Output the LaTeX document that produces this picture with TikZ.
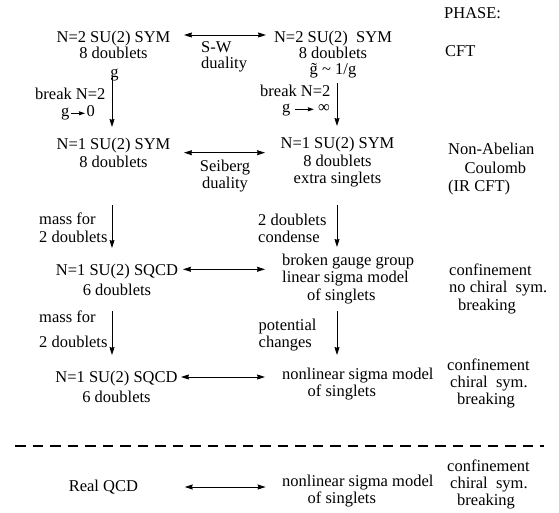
\documentclass[tikz,border=0pt]{standalone}
\usepackage{fontspec}
\setmainfont{Liberation Serif}
\usetikzlibrary{arrows.meta}
\newcommand\ml[2][c]{\begin{tabular}[t]{@{}#1@{}}#2\end{tabular}}
\begin{document}
\begin{tikzpicture}[x=1pt,y=-1pt,
  t/.style={anchor=base,inner sep=0pt,font=\fontsize{16.5}{#1}\selectfont},
  t/.default=17,
  tw/.style={t=#1,anchor=base west},
  tw/.default=17,
  te/.style={t=#1,anchor=base east},
  te/.default=17,
  >={Stealth[length=8pt,width=5pt,inset=0.8pt]},
  arr/.style={line width=0.9pt,->},
  darr/.style={line width=0.9pt,<->},
  sarr/.style={line width=0.8pt,-{Stealth[length=6pt,width=4pt,inset=0.6pt]}},
  sep/.style={line width=1.2pt,dash pattern=on 10.5pt off 7pt}
]
\useasboundingbox (0,0) rectangle (559,513);

% header and row 1
\node[tw] (phase) at (444,18.3) {PHASE:};
\node[t=16.5] (n2L) at (113.5,42.5) {\ml{N=2 SU(2) SYM\\8 doublets}};
\node[tw=16.5] (sw) at (201,52.5) {\ml[l]{S-W\\duality}};
\node[t=16] (n2R) at (333,42.3) {\ml{N=2 SU(2)\ \ SYM\\8 doublets\\g̃ \textasciitilde{} 1/g}};
\node[tw] (cft) at (445,56.5) {CFT};
\coordinate (h1a) at (184,35); \coordinate (h1b) at (266,35);
\draw[darr] (h1a) -- (h1b);

% step 1
\node[t] (gL) at (114.5,77.5) {g};
\node[tw] (brL) at (35,100) {break N=2};
\node[tw] (g0a) at (61,117) {g};
\node[tw] (g0b) at (86.5,117) {0};
\draw[sarr] ([xshift=1pt,yshift=3.7pt]g0a.base east) -- ([xshift=-1.5pt,yshift=3.7pt]g0b.base west);
\coordinate (v1a) at (112,77); \coordinate (v1b) at (112,127);
\draw[arr] (v1a) -- (v1b);
\node[tw] (brR) at (260,96.7) {break N=2};
\node[tw] (gia) at (282,113) {g};
\node[te] (gib) at (330,113) {∞};
\draw[sarr] ([xshift=4pt,yshift=3.7pt]gia.base east) -- ([xshift=-4pt,yshift=3.7pt]gib.base west);
\coordinate (v2a) at (337,83); \coordinate (v2b) at (337,126);
\draw[arr] (v2a) -- (v2b);

% row 2
\node[t=18] (n1L) at (113.5,149.3) {\ml{N=1 SU(2) SYM\\8 doublets}};
\node[t=16.3] (seib) at (225,171.7) {\ml{Seiberg\\duality}};
\node[t=17.8] (n1R) at (337.5,148.3) {\ml{N=1 SU(2) SYM\\8 doublets\\extra singlets}};
\node[tw=18.3] (nab) at (448,155) {\ml[l]{Non-Abelian\\\hspace*{16.5pt}Coulomb\\(IR CFT)}};
\coordinate (h2a) at (184,152.7); \coordinate (h2b) at (265,152.7);
\draw[darr] (h2a) -- (h2b);

% step 2
\node[tw=18] (mass1) at (39,224) {\ml[l]{mass for\\2 doublets}};
\node[tw=17.7] (cond) at (258,225) {\ml[l]{2 doublets\\condense}};
\coordinate (v3a) at (112,205); \coordinate (v3b) at (112,248);
\draw[arr] (v3a) -- (v3b);
\coordinate (v4a) at (337,205); \coordinate (v4b) at (337,247);
\draw[arr] (v4a) -- (v4b);

% row 3
\node[t=20] (sq1) at (117,275.7) {\ml{N=1 SU(2) SQCD\\6 doublets}};
\node[tw=17.8] (brk) at (282,265) {\ml[l]{broken gauge group\\linear sigma model\\\hspace*{25pt}of singlets}};
\node[tw=17.5] (conf1) at (449,275) {\ml[l]{confinement\\no chiral\ \ sym.\\\hspace*{9pt}breaking}};
\coordinate (h3a) at (183,269.3); \coordinate (h3b) at (265,269.3);
\draw[darr] (h3a) -- (h3b);

% step 3
\node[tw=25] (mass2) at (39,322) {\ml[l]{mass for\\2 doublets}};
\node[tw=17] (pot) at (258.5,330) {\ml[l]{potential\\changes}};
\coordinate (v5a) at (112,311); \coordinate (v5b) at (112,355);
\draw[arr] (v5a) -- (v5b);
\coordinate (v6a) at (337,311); \coordinate (v6b) at (337,355);
\draw[arr] (v6a) -- (v6b);

% row 4
\node[t=20.5] (sq2) at (116.5,382.4) {\ml{N=1 SU(2) SQCD\\6 doublets}};
\node[tw=17.5] (nl1) at (282,379) {\ml[l]{nonlinear sigma model\\\hspace*{25.5pt}of singlets}};
\node[tw=17] (conf2) at (447,370.5) {\ml[l]{confinement\\\hspace*{3pt}chiral\ \ sym.\\\hspace*{10pt}breaking}};
\coordinate (h4a) at (181,377); \coordinate (h4b) at (265,377);
\draw[darr] (h4a) -- (h4b);

% separator
\coordinate (d1) at (15,446); \coordinate (d2) at (544,446);
\draw[sep] (d1) -- (d2);

% row 5
\node[t] (qcd) at (103.4,491) {Real QCD};
\node[tw=17.5] (nl2) at (282,486) {\ml[l]{nonlinear sigma model\\\hspace*{25.5pt}of singlets}};
\node[tw=17] (conf3) at (447,471) {\ml[l]{confinement\\\hspace*{3pt}chiral\ \ sym.\\\hspace*{10pt}breaking}};
\coordinate (h5a) at (184.7,487); \coordinate (h5b) at (265.6,487);
\draw[darr] (h5a) -- (h5b);
\end{tikzpicture}
\end{document}
